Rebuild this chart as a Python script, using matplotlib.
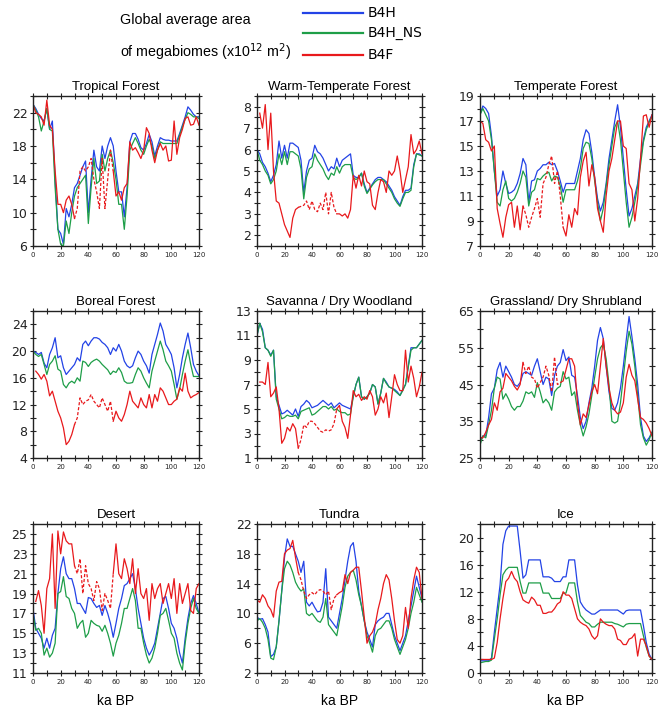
import numpy as np
import matplotlib
matplotlib.use('Agg')
import matplotlib.pyplot as plt
from matplotlib.lines import Line2D

nan = np.nan
age = np.arange(0, 121, 2)  # ka BP

# ---- Tropical Forest
trop_b4h = [23.0, 22.5, 21.8, 21.3, 21.0, 22.5, 20.0, 21.0, 14.0, 8.0,
            7.5, 6.2, 10.5, 9.5, 11.0, 13.0, 13.5, 14.5, 15.5, 16.2,
            10.0, 14.0, 17.5, 15.5, 15.0, 18.0, 16.5, 18.0, 19.0, 18.0,
            15.0, 12.5, 12.5, 9.5, 13.0, 18.5, 19.5, 19.5, 18.8, 17.8,
            17.5, 18.3, 19.4, 18.5, 16.8, 18.0, 19.0, 18.8, 18.7, 18.7,
            18.6, 18.6, 18.6, 19.5, 20.5, 21.5, 22.7, 22.3, 21.8, 21.5,
            21.5]
trop_ns = [23.0, 22.3, 21.5, 19.8, 21.0, 22.5, 20.0, 19.8, 13.0, 8.0,
           6.2, 6.0, 9.0, 7.5, 10.0, 12.0, 13.0, 13.5, 14.0, 14.5,
           8.7, 13.0, 16.5, 13.5, 13.8, 17.0, 15.0, 16.5, 17.5, 16.0,
           14.0, 11.0, 11.0, 8.0, 12.0, 17.5, 18.3, 19.0, 18.3, 17.5,
           17.0, 18.0, 18.8, 18.0, 16.5, 17.5, 18.5, 18.3, 18.3, 18.3,
           18.3, 18.3, 18.3, 19.3, 20.3, 21.2, 22.0, 21.8, 21.5, 21.5,
           21.3]
trop_b4f = [23.0, 22.0, 21.8, 21.5, 20.5, 23.5, 20.5, 20.0, 15.0, 11.0,
            11.0, 10.0, 11.5, 12.0, 11.0, 9.3, 10.5, 15.0, 15.5, 15.0,
            15.5, 16.5, 14.0, 12.5, 10.5, 16.5, 10.5, 14.0, 17.5, 15.0,
            12.0, 12.5, 11.5, 13.0, 13.5, 18.5, 17.5, 17.8, 17.2, 16.5,
            17.5, 20.2, 19.5, 17.5, 16.0, 17.5, 18.3, 17.5, 18.0, 16.2,
            16.3, 21.0, 17.0, 19.0, 20.0, 21.3, 21.5, 20.5, 20.6, 21.5,
            20.5]

# ---- Warm-Temperate Forest
wt_b4h = [6.0, 5.8, 5.4, 5.2, 4.9, 4.5, 4.8, 5.3, 6.4, 5.6,
          6.2, 5.6, 6.3, 6.3, 6.2, 6.1, 5.5, 4.0, 5.0, 5.5,
          5.6, 6.2, 5.9, 5.8, 5.6, 5.3, 5.0, 5.2, 5.1, 5.6,
          5.2, 5.5, 5.6, 5.7, 5.8, 4.8, 4.7, 4.7, 4.9, 4.4,
          4.0, 4.2, 4.4, 4.6, 4.7, 4.7, 4.6, 4.5, 4.3, 4.1,
          3.8, 3.6, 3.4, 3.8, 4.1, 4.1, 4.2, 5.3, 5.8, 5.8,
          5.7]
wt_ns = [6.0, 5.5, 5.3, 5.0, 4.8, 4.4, 4.6, 5.0, 5.8, 5.3,
         5.9, 5.3, 5.9, 5.9, 5.8, 5.7, 5.1, 3.7, 4.7, 5.1,
         5.2, 5.8, 5.5, 5.3, 5.1, 4.8, 4.6, 4.9, 4.8, 5.2,
         4.9, 5.2, 5.3, 5.3, 5.3, 4.7, 4.6, 4.7, 4.9, 4.3,
         3.95, 4.15, 4.35, 4.5, 4.6, 4.6, 4.6, 4.4, 4.2, 4.0,
         3.7, 3.5, 3.35, 3.7, 4.0, 4.0, 4.1, 5.2, 5.8, 5.75,
         5.7]
wt_b4f = [nan, 7.7, 7.0, 8.1, 6.0, 7.7, 5.0, 3.6, 3.5, 3.0,
          2.5, 2.2, 1.9, 2.8, 3.2, 3.3, 3.35, 3.4, 3.6, 3.2,
          3.6, 3.2, 3.1, 3.5, 3.2, 4.0, 3.0, 4.0, 3.3, 3.0,
          3.0, 2.9, 3.0, 2.8, 3.2, 4.8, 4.2, 4.8, 4.3, 5.0,
          4.5, 4.4, 3.4, 3.2, 4.0, 4.6, 4.5, 4.0, 5.0, 4.8,
          5.0, 5.7, 5.0, 4.0, 4.6, 5.2, 6.7, 5.8, 6.0, 6.4,
          5.8]

# ---- Temperate Forest
tf_b4h = [17.5, 18.2, 18.0, 17.6, 15.8, 13.0, 11.0, 11.5, 13.0, 12.0,
          11.2, 11.3, 11.5, 12.0, 12.8, 14.0, 13.5, 10.5, 12.2, 12.3,
          13.0, 13.2, 13.5, 13.5, 13.7, 13.5, 13.6, 13.0, 12.2, 11.3,
          12.0, 12.0, 12.0, 12.0, 13.0, 14.0, 15.5, 16.3, 16.0, 14.5,
          12.5, 10.8, 9.8, 10.5, 12.0, 14.0, 15.5, 17.0, 18.3, 16.5,
          14.0, 11.5, 9.4, 10.0, 11.0, 12.0, 14.0, 15.5, 16.5, 17.0,
          17.5]
tf_ns = [17.5, 18.0, 17.5, 17.0, 15.5, 13.0, 10.5, 10.2, 11.5, 12.2,
         10.8, 10.6, 10.8, 11.3, 12.0, 13.0, 12.5, 10.2, 11.3, 11.5,
         12.4, 12.3, 12.6, 12.8, 12.9, 12.2, 12.6, 12.5, 11.8, 10.5,
         11.5, 11.5, 11.5, 11.5, 12.2, 13.2, 14.8, 15.3, 15.2, 14.0,
         12.2, 10.5, 9.0, 10.0, 11.8, 13.5, 15.0, 16.5, 17.0, 15.5,
         13.0, 10.5, 8.5, 9.3, 10.5, 11.8, 13.5, 15.3, 16.3, 16.9,
         17.4]
tf_b4f = [17.0, 16.8, 15.5, 15.3, 14.6, 15.0, 10.0, 8.8, 7.7, 9.3,
          10.3, 10.5, 8.5, 10.2, 8.3, 10.2, 9.5, 8.5, 9.3, 10.0,
          10.8, 9.3, 12.0, 12.5, 13.5, 14.2, 12.0, 13.0, 11.0, 8.5,
          7.8, 9.5, 8.5, 10.0, 9.5, 12.5, 13.8, 14.5, 11.8, 13.5,
          12.5, 10.0, 9.0, 8.1, 11.0, 13.0, 14.0, 15.5, 17.0, 17.0,
          15.0, 14.8, 12.0, 11.5, 9.0, 10.8, 14.0, 17.4, 17.5, 16.5,
          17.5]

# ---- Boreal Forest
bf_b4h = [20.0, 19.8, 19.5, 19.8, 18.2, 17.5, 19.5, 20.5, 22.0, 19.0,
          19.3, 17.5, 16.5, 17.0, 17.5, 18.0, 19.0, 18.5, 21.0, 21.5,
          20.8, 21.5, 22.0, 22.0, 21.8, 21.3, 21.0, 20.5, 19.5, 20.5,
          20.0, 21.0, 20.0, 18.5, 17.8, 17.5, 17.8, 19.0, 20.0, 19.5,
          18.5, 17.8, 16.7, 19.5, 21.0, 22.5, 24.2, 23.0, 21.0, 20.3,
          19.5, 17.5, 14.5, 16.5, 19.0, 21.0, 22.7, 20.5, 18.0, 17.0,
          16.3]
bf_ns = [20.0, 19.5, 19.2, 19.5, 18.0, 16.5, 18.0, 18.5, 19.3, 17.3,
         17.0, 15.0, 14.5, 15.2, 15.5, 15.2, 16.0, 15.5, 18.5, 18.3,
         17.7, 18.3, 18.6, 18.8, 18.5, 18.0, 17.6, 17.2, 16.5, 17.0,
         16.8, 17.5, 16.8, 15.5, 15.2, 15.2, 15.3, 16.5, 17.5, 17.0,
         16.0, 15.2, 14.5, 17.0, 18.5, 20.0, 21.5, 20.2, 18.5, 17.8,
         17.0, 15.0, 12.8, 14.3, 16.5, 18.5, 20.2, 18.0, 16.2, 16.2,
         16.2]
bf_b4f = [nan, 17.0, 16.5, 15.8, 16.5, 15.5, 13.3, 14.0, 12.5, 11.0,
          10.0, 8.5, 6.0, 6.5, 7.5, 9.0, 10.0, 13.0, 12.0, 12.5,
          12.7, 13.5, 12.5, 12.0, 11.5, 13.0, 12.0, 11.0, 12.5, 9.5,
          11.0, 10.0, 9.5, 10.5, 12.0, 14.0, 12.5, 12.0, 11.5, 13.0,
          12.0, 11.5, 13.5, 11.5, 13.5, 12.5, 14.5, 14.0, 13.0, 12.0,
          12.0, 12.5, 12.8, 14.5, 14.0, 16.7, 14.0, 13.0, 13.3, 13.5,
          13.8]

# ---- Savanna / Dry Woodland
sv_b4h = [11.0, 12.0, 11.5, 10.0, 9.8, 9.4, 9.8, 6.0, 5.3, 4.6,
          4.7, 4.9, 4.7, 4.5, 5.0, 4.4, 5.2, 5.4, 5.7, 5.5,
          5.1, 5.2, 5.3, 5.5, 5.7, 5.5, 5.3, 5.5, 5.1, 5.3,
          5.5, 5.3, 5.2, 5.1, 5.0, 6.0, 7.0, 7.6, 6.0, 5.8,
          6.0, 6.3, 7.0, 6.8, 5.4, 6.3, 7.5, 7.2, 6.8, 6.7,
          6.6, 6.4, 6.1, 6.6, 7.0, 8.5, 10.0, 10.0, 10.0, 10.3,
          10.6]
sv_ns = [11.0, 12.0, 11.3, 10.0, 9.8, 9.3, 9.8, 5.8, 5.0, 4.2,
         4.3, 4.5, 4.4, 4.4, 4.5, 4.2, 4.8, 4.9, 5.0, 5.1,
         4.5, 4.6, 4.8, 5.0, 5.2, 5.2, 5.0, 5.2, 4.9, 5.0,
         4.8, 4.7, 4.7, 4.5, 4.6, 6.0, 7.0, 7.6, 6.0, 5.8,
         6.0, 6.3, 7.0, 6.8, 5.4, 6.3, 7.5, 7.1, 6.8, 6.7,
         6.5, 6.3, 6.1, 6.5, 7.0, 8.4, 9.8, 10.0, 10.0, 10.3,
         10.6]
sv_b4f = [nan, 7.2, 7.2, 7.0, 8.8, 6.0, 6.3, 6.8, 5.0, 2.2,
          2.6, 3.5, 3.2, 3.8, 3.4, 1.8, 2.5, 3.7, 3.5, 4.0,
          4.0, 3.8, 3.5, 3.2, 3.1, 3.3, 3.2, 3.3, 3.8, 5.0,
          5.3, 4.0, 3.5, 2.6, 4.5, 6.5, 6.0, 6.2, 5.7, 6.0,
          5.8, 6.5, 6.0, 4.5, 5.0, 6.0, 5.5, 6.3, 4.3, 6.0,
          7.8, 7.0, 6.5, 6.5, 9.8, 7.2, 8.5, 7.5, 6.0, 6.8,
          8.0]

# ---- Grassland / Dry Shrubland
gr_b4h = [29.5, 31.0, 31.0, 36.0, 42.5, 44.0, 49.0, 51.0, 47.0, 50.0,
          48.5, 47.0, 45.0, 44.5, 45.5, 48.0, 48.5, 48.0, 47.5, 50.0,
          52.0, 48.5, 45.0, 47.0, 46.5, 42.0, 47.5, 50.0, 51.0, 54.5,
          51.5, 52.5, 47.5, 47.0, 42.0, 36.0, 33.0, 35.0, 40.0, 44.0,
          50.0, 57.0, 60.5, 57.5, 50.0, 43.0, 38.5, 38.0, 40.0, 44.0,
          50.0, 57.0, 63.5, 58.0, 52.0, 45.0, 36.0, 31.0, 29.5, 30.5,
          32.0]
gr_ns = [28.5, 31.0, 30.5, 34.0, 38.0, 44.0, 47.0, 46.5, 41.0, 42.5,
         41.0, 39.0, 38.0, 39.0, 39.0, 40.5, 43.0, 42.5, 43.0, 41.5,
         45.5, 43.0, 40.0, 41.0, 40.0, 38.0, 43.0, 44.0, 44.5, 48.5,
         46.5, 47.0, 42.0, 43.0, 38.0, 34.0, 31.0, 33.5, 37.0, 42.0,
         47.0, 52.0, 55.0, 56.0, 52.0, 45.0, 35.0, 34.5, 35.0, 40.0,
         47.0, 54.0, 59.5, 56.0, 50.0, 42.0, 34.0, 30.5, 28.5, 30.0,
         32.0]
gr_b4f = [30.5, 30.5, 32.0, 34.0, 35.5, 40.0, 38.0, 43.0, 44.0, 48.0,
          47.0, 46.0, 44.5, 43.5, 45.0, 51.0, 48.0, 50.0, 47.0, 46.5,
          44.0, 45.5, 47.0, 50.0, 47.5, 43.0, 52.5, 45.0, 45.5, 46.0,
          49.0, 52.0, 52.0, 50.0, 40.0, 34.0, 37.0, 36.0, 39.5, 43.0,
          45.0, 42.5, 50.0, 57.5, 50.0, 44.0, 40.0, 38.0, 37.0, 37.5,
          40.0, 47.0, 50.5, 47.5, 46.0, 41.0, 36.0, 35.5, 34.5, 33.0,
          31.0]

# ---- Desert
ds_b4h = [17.5, 15.5, 15.0, 14.5, 13.5, 14.5, 13.5, 14.8, 15.5, 19.0,
          21.5, 22.7, 21.0, 20.5, 20.5, 19.5, 18.0, 18.0, 17.5, 17.0,
          18.6, 18.5, 18.0, 17.6, 17.8, 16.8, 17.8, 17.0, 16.0, 14.6,
          16.0, 17.5, 18.5, 19.8, 20.0, 20.5, 21.0, 19.5, 17.5, 16.0,
          14.5, 13.5, 12.8, 13.3, 14.0, 15.5, 17.0, 18.5, 18.7, 17.5,
          16.0, 15.5, 14.5, 13.0, 12.0, 14.5, 16.5, 18.0, 18.8, 18.0,
          17.0]
ds_ns = [17.0, 15.3, 15.5, 15.0, 12.8, 13.5, 12.6, 13.0, 14.0, 19.0,
         19.2, 20.7, 18.7, 18.5, 17.5, 17.0, 15.5, 16.0, 16.3, 14.6,
         15.0, 16.3, 16.0, 15.8, 15.7, 15.2, 15.8, 15.0, 14.0, 12.7,
         14.0, 14.8, 16.0, 17.5, 17.5, 18.5, 19.5, 18.3, 15.5, 15.5,
         14.0, 12.8, 12.0, 12.5, 13.5, 15.0, 16.8, 17.0, 17.5, 16.3,
         15.0, 14.5, 13.0, 12.0, 11.3, 14.0, 16.0, 17.5, 18.5, 17.5,
         17.0]
ds_b4f = [nan, 18.2, 19.3, 17.8, 15.0, 19.5, 20.5, 25.0, 17.5, 25.3,
          23.0, 25.2, 24.3, 24.0, 24.0, 21.8, 21.0, 22.5, 19.0, 21.8,
          20.0, 19.5, 18.3, 20.2, 19.5, 17.3, 19.0, 18.3, 17.5, 21.0,
          24.0, 21.0, 20.5, 22.5, 21.5, 20.0, 22.5, 19.0, 21.5, 19.0,
          18.5, 19.5, 16.3, 20.0, 18.5, 19.5, 20.0, 18.0, 19.0, 20.0,
          18.5, 20.5, 17.0, 20.0, 18.0, 19.0, 20.0, 17.3, 17.0, 19.5,
          20.0]

# ---- Tundra
tu_b4h = [9.5, 9.2, 9.3, 8.5, 7.5, 4.2, 4.5, 5.5, 9.0, 13.0,
          17.5, 20.0, 19.0, 19.0, 18.0, 17.0, 15.5, 17.0, 11.5, 11.0,
          11.5, 10.8, 10.2, 10.3, 11.5, 16.0, 9.5, 9.0, 8.5, 8.0,
          10.0, 12.0, 14.5, 17.0, 19.0, 19.5, 17.0, 13.0, 11.0, 9.0,
          7.5, 6.5, 5.5, 8.5, 9.0, 9.3, 9.5, 10.0, 10.0, 8.5,
          7.0, 6.0, 5.0, 6.0, 7.0, 9.0, 11.0, 13.0, 15.0, 13.5,
          12.0]
tu_ns = [9.0, 9.3, 8.8, 8.0, 6.5, 4.0, 3.8, 5.5, 9.0, 13.0,
         16.0, 17.0, 16.5, 15.5, 14.2, 13.5, 13.0, 13.3, 10.0, 9.7,
         10.0, 9.5, 9.0, 8.8, 9.5, 12.0, 8.5, 8.0, 7.5, 7.0,
         9.0, 11.0, 13.5, 15.0, 15.5, 15.8, 14.5, 12.5, 11.0, 9.0,
         7.0, 6.0, 4.8, 7.0, 7.8, 8.0, 8.5, 9.0, 9.0, 8.0,
         6.5, 5.5, 4.5, 5.5, 6.5, 8.0, 10.0, 11.5, 13.5, 12.5,
         11.5]
tu_b4f = [11.8, 11.5, 12.5, 12.0, 11.0, 10.5, 9.5, 13.0, 14.2, 14.3,
          18.0, 18.5, 18.7, 19.8, 17.5, 15.5, 14.5, 13.0, 12.0, 12.5,
          12.8, 12.5, 13.0, 13.2, 13.0, 12.5, 13.0, 10.5, 12.0, 12.5,
          12.8, 13.0, 15.2, 14.0, 15.5, 15.8, 16.2, 16.2, 13.0, 9.5,
          6.0, 7.0, 7.5, 8.5, 10.5, 12.0, 14.0, 15.2, 14.5, 12.0,
          9.0, 6.5, 6.0, 7.0, 10.8, 8.0, 12.0, 14.5, 16.2, 15.5,
          12.0]

# ---- Ice
ice_b4h = [1.8, 1.8, 1.8, 1.8, 2.2, 6.0, 9.5, 13.0, 19.0, 21.0,
           21.7, 21.7, 21.7, 21.7, 18.0, 14.0, 14.5, 16.7, 16.7, 16.7,
           16.7, 16.7, 14.2, 14.2, 14.2, 14.0, 13.5, 13.5, 13.5, 14.2,
           14.2, 16.7, 16.7, 16.7, 13.0, 10.5, 9.8, 9.3, 9.0, 8.7,
           8.7, 9.0, 9.3, 9.3, 9.3, 9.3, 9.3, 9.3, 9.3, 9.0,
           8.7, 9.2, 9.3, 9.3, 9.3, 9.3, 9.3, 7.0, 4.5, 2.8,
           2.0]
ice_ns = [1.5, 1.6, 1.7, 1.7, 1.9, 5.0, 8.0, 11.5, 14.5, 15.2,
          15.6, 15.6, 15.6, 15.6, 13.5, 11.8, 11.8, 13.3, 13.3, 13.3,
          13.3, 13.3, 11.8, 11.8, 11.8, 11.0, 11.0, 11.0, 11.0, 11.8,
          11.8, 13.3, 13.3, 13.3, 10.5, 8.5, 8.0, 7.5, 7.3, 6.8,
          6.8, 7.2, 7.5, 7.5, 7.5, 7.5, 7.5, 7.3, 7.2, 7.0,
          6.8, 7.2, 7.3, 7.3, 7.3, 7.3, 7.3, 5.5, 3.8, 2.5,
          2.0]
ice_b4f = [2.0, 2.0, 2.0, 2.0, 2.0, 2.2, 4.5, 8.0, 11.0, 13.5,
           14.0, 15.0, 14.0, 13.5, 12.0, 10.8, 10.5, 10.3, 11.2, 10.8,
           10.0, 10.0, 8.8, 8.8, 9.0, 9.0, 9.5, 10.2, 10.5, 12.0,
           11.5, 11.5, 11.0, 9.5, 8.0, 7.5, 7.2, 7.0, 6.5, 5.5,
           5.0, 5.5, 8.0, 7.5, 7.2, 7.0, 7.0, 6.5, 5.0, 4.8,
           4.2, 4.2, 5.0, 5.2, 5.8, 2.5, 5.0, 5.0, 4.0, 2.5,
           2.0]

titles = ['Tropical Forest', 'Warm-Temperate Forest', 'Temperate Forest',
          'Boreal Forest', 'Savanna / Dry Woodland', 'Grassland/ Dry Shrubland',
          'Desert', 'Tundra', 'Ice']
series = [(trop_b4h, trop_ns, trop_b4f), (wt_b4h, wt_ns, wt_b4f), (tf_b4h, tf_ns, tf_b4f),
          (bf_b4h, bf_ns, bf_b4f), (sv_b4h, sv_ns, sv_b4f), (gr_b4h, gr_ns, gr_b4f),
          (ds_b4h, ds_ns, ds_b4f), (tu_b4h, tu_ns, tu_b4f), (ice_b4h, ice_ns, ice_b4f)]
# y range, tick step, labelled ticks
yaxes = [((6, 24), 2, [6, 10, 14, 18, 22]),
         ((1.5, 8.5), 0.5, [2, 3, 4, 5, 6, 7, 8]),
         ((7, 19), 1, [7, 9, 11, 13, 15, 17, 19]),
         ((4, 26), 2, [4, 8, 12, 16, 20, 24]),
         ((1, 13), 1, [1, 3, 5, 7, 9, 11, 13]),
         ((25, 65), 5, [25, 35, 45, 55, 65]),
         ((11, 26), 1, [11, 13, 15, 17, 19, 21, 23, 25]),
         ((2, 22), 2, [2, 6, 10, 14, 18, 22]),
         ((0, 22), 2, [0, 4, 8, 12, 16, 20])]
dashed = [True] * 8 + [False]   # B4F interpolated interval drawn dashed
DASH_FROM, DASH_TO = 30, 58

names = ['B4H', 'B4H_NS', 'B4F']
colors = ['#2343e6', '#1e9e48', '#e8191c']

W, H = 668, 708
fig = plt.figure(figsize=(W / 100, H / 100), dpi=100)

col_left = [33, 257, 480]
col_w = [166, 165, 172]
row_top = [96, 311, 524]
row_h = [150, 147, 149]

for i in range(9):
    r, c = divmod(i, 3)
    ax = fig.add_axes([col_left[c] / W, 1 - (row_top[r] + row_h[r]) / H,
                       col_w[c] / W, row_h[r] / H])
    b4h, ns, b4f = series[i]
    ax.plot(age, b4h, color=colors[0], lw=0.9)
    ax.plot(age, ns, color=colors[1], lw=0.9)
    red = np.array(b4f, dtype=float)
    if dashed[i]:
        solid = red.copy()
        solid[(age > DASH_FROM) & (age < DASH_TO)] = nan
        dash = red.copy()
        dash[(age < DASH_FROM) | (age > DASH_TO)] = nan
        ax.plot(age, solid, color=colors[2], lw=0.9)
        ax.plot(age, dash, color=colors[2], lw=0.9, ls=(0, (2.5, 1.5)))
    else:
        ax.plot(age, red, color=colors[2], lw=0.9)

    ax.set_xlim(0, 120)
    xt = np.arange(0, 121, 10)
    ax.set_xticks(xt)
    ax.set_xticklabels([str(v) if v % 20 == 0 else '' for v in xt], fontsize=5)

    (lo, hi), step, labs = yaxes[i]
    ax.set_ylim(lo, hi)
    yt = np.arange(lo, hi + 1e-6, step)
    ax.set_yticks(yt)
    ax.set_yticklabels([f'{v:g}' if np.any(np.isclose(v, labs)) else '' for v in yt],
                       fontsize=9)
    ax.tick_params(direction='inout', length=5, width=0.8, top=True, right=True,
                   pad=1.5, colors='#222222')
    for s in ax.spines.values():
        s.set_linewidth(1.0)
        s.set_color('#222222')
    ax.set_title(titles[i], fontsize=9.5, family='Liberation Sans', pad=4)
    if r == 2:
        ax.set_xlabel('ka BP', fontsize=10, family='Liberation Sans', labelpad=7)

# header text and legend
fig.text(120 / W, 1 - 20 / H, 'Global average area', fontsize=10.3,
         family='Liberation Sans', va='center', ha='left')
fig.text(120 / W, 1 - 52 / H, 'of megabiomes (x10$^{12}$ m$^{2}$)', fontsize=10.3,
         family='Liberation Sans', va='center', ha='left')
for k, yy in enumerate([13, 33, 55]):
    fig.add_artist(Line2D([303 / W, 363 / W], [1 - yy / H, 1 - yy / H],
                          color=colors[k], lw=1.6, transform=fig.transFigure))
    fig.text(368 / W, 1 - yy / H, names[k], fontsize=10, va='center', ha='left')

fig.savefig('out.png', dpi=100)
